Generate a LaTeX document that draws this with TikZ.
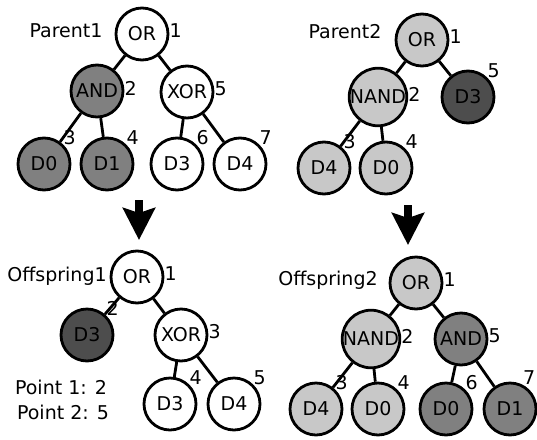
\documentclass[tikz,border=0pt]{standalone}
\usepackage{fontspec}
\setmainfont{DejaVu Sans}
\usetikzlibrary{arrows.meta}
\definecolor{light}{HTML}{C8C8C8}
\definecolor{mid}{HTML}{808080}
\definecolor{dark}{HTML}{4D4D4D}
\tikzset{
  gene/.style={circle, draw=black, fill=white, line width=2.8pt, minimum size=52pt, inner sep=0pt, font=\fontsize{19}{22}\selectfont},
  lgene/.style={gene, fill=light},
  mgene/.style={gene, fill=mid},
  dgene/.style={gene, fill=dark},
  edge/.style={draw=black, line width=2.8pt},
  num/.style={font=\fontsize{19}{22}\selectfont, inner sep=0pt},
  inum/.style={num, yshift=3pt},
  lab/.style={font=\fontsize{19}{22}\selectfont, inner sep=0pt},
  big/.style={line width=8pt, -{Stealth[length=32pt, width=32pt, inset=5pt]}},
}
\begin{document}
\begin{tikzpicture}[x=1pt, y=-1pt]
  \useasboundingbox (0,0) rectangle (537,439);
  % Parent1
  \node[lab] (pone) at (66,31) {Parent1};
  \node[gene,  label={[inum]0:1}]  (pa) at (142,34) {OR};
  \node[mgene, label={[inum]0:2}]  (pb) at (97,91) {AND};
  \node[gene,  label={[inum]0:5}]  (pc) at (187,92) {XOR};
  \node[mgene, label={[num]45:3}] (pd) at (44,164) {D0};
  \node[mgene, label={[num]45:4}] (pe) at (107,164) {D1};
  \node[gene,  label={[num]45:6}] (pf) at (177,164) {D3};
  \node[gene,  label={[num]45:7}] (pg) at (240,164) {D4};
  \draw[edge] (pa) -- (pb);
  \draw[edge] (pa) -- (pc);
  \draw[edge] (pb) -- (pd);
  \draw[edge] (pb) -- (pe);
  \draw[edge] (pc) -- (pf);
  \draw[edge] (pc) -- (pg);
  % Parent2
  \node[lab] (ptwo) at (345,32) {Parent2};
  \node[lgene, label={[inum]0:1}]  (qa) at (422,40) {OR};
  \node[lgene, label={[inum]0:2}]  (qb) at (378,97) {NAND};
  \node[dgene, label={[num]45:5}] (qc) at (468,97) {D3};
  \node[lgene, label={[num]45:3}] (qd) at (324,168) {D4};
  \node[lgene, label={[num]45:4}] (qe) at (386,168) {D0};
  \draw[edge] (qa) -- (qb);
  \draw[edge] (qa) -- (qc);
  \draw[edge] (qb) -- (qd);
  \draw[edge] (qb) -- (qe);
  % arrows
  \coordinate (la) at (139,200);
  \coordinate (lb) at (139,240);
  \coordinate (ra) at (408,205);
  \coordinate (rb) at (408,245);
  \draw[big] (la) -- (lb);
  \draw[big] (ra) -- (rb);
  % Offspring1
  \node[lab] (oone) at (57,276) {Offspring1};
  \node[gene,  label={[inum]0:1}]  (sa) at (137,277) {OR};
  \node[dgene, label={[num]45:2}] (sb) at (87,335) {D3};
  \node[gene,  label={[inum]0:3}]  (sc) at (181,335) {XOR};
  \node[gene,  label={[num]45:4}] (sd) at (170,404) {D3};
  \node[gene,  label={[num]45:5}] (se) at (234,404) {D4};
  \draw[edge] (sa) -- (sb);
  \draw[edge] (sa) -- (sc);
  \draw[edge] (sc) -- (sd);
  \draw[edge] (sc) -- (se);
  \node[lab] (ptone) at (61,387) {Point 1: 2};
  \node[lab] (pttwo) at (63,412) {Point 2: 5};
  % Offspring2
  \node[lab] (otwo) at (328,280) {Offspring2};
  \node[lgene, label={[inum]0:1}]  (ta) at (416,283) {OR};
  \node[lgene, label={[inum]0:2}]  (tb) at (371,339) {NAND};
  \node[mgene, label={[inum]0:5}]  (tc) at (461,339) {AND};
  \node[lgene, label={[num]45:3}] (td) at (316,409) {D4};
  \node[lgene, label={[num]45:4}] (te) at (378,409) {D0};
  \node[mgene, label={[num]45:6}] (tf) at (446,409) {D0};
  \node[mgene, label={[num]62:7}] (tg) at (510,409) {D1};
  \draw[edge] (ta) -- (tb);
  \draw[edge] (ta) -- (tc);
  \draw[edge] (tb) -- (td);
  \draw[edge] (tb) -- (te);
  \draw[edge] (tc) -- (tf);
  \draw[edge] (tc) -- (tg);
\end{tikzpicture}
\end{document}
